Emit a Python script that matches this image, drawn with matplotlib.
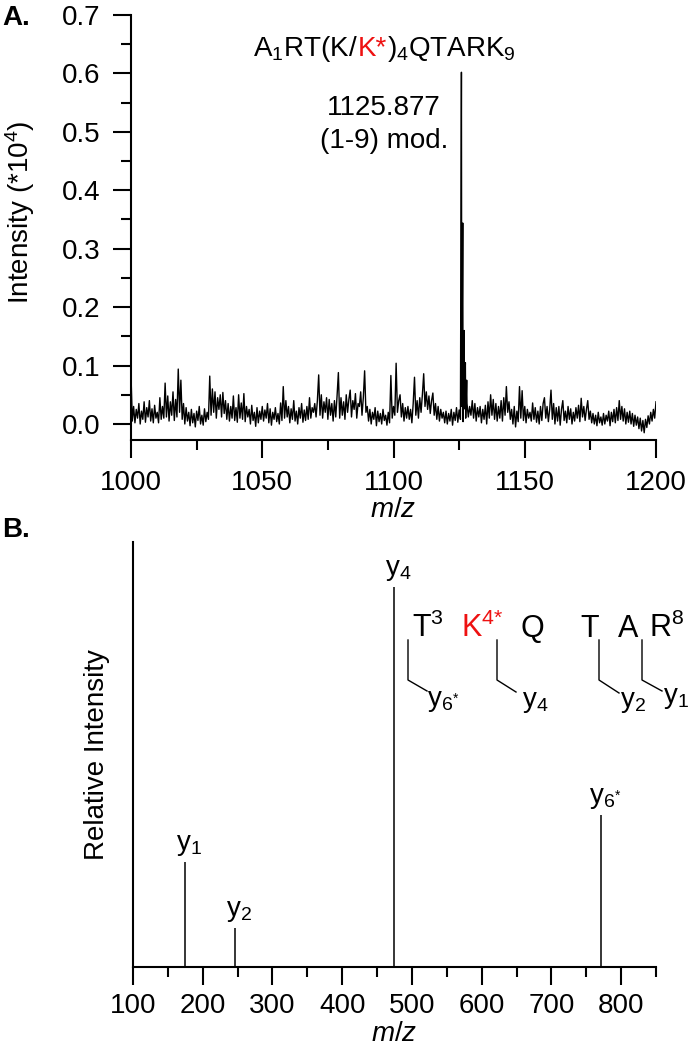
import numpy as np
import matplotlib
matplotlib.use("Agg")
import matplotlib.pyplot as plt
from matplotlib.offsetbox import TextArea, HPacker, AnnotationBbox
from matplotlib.ticker import MultipleLocator
from matplotlib.lines import Line2D

plt.rcParams['font.family'] = ['Liberation Sans', 'DejaVu Sans']
plt.rcParams['mathtext.fontset'] = 'custom'
plt.rcParams['mathtext.rm'] = 'Liberation Sans'
plt.rcParams['mathtext.it'] = 'Liberation Sans:italic'
plt.rcParams['mathtext.bf'] = 'Liberation Sans:bold'

# ---------------- Panel A data (intensity in units of 10^4) ----------------
noise_start_mz = 1000.0
noise_step_mz = 0.5
# noise values in thousandths of the axis unit, sampled every 0.5 m/z
noise_1000_1100 = [
    84, 5, 30, 2, 25, 10, 35, 0, 22, 8, 38, 3, 28, 12, 40, 5, 26, 2, 32, 10,
    20, 2, 45, 8, 30, 10, 70, 12, 48, 5, 38, 15, 55, 6, 42, 12, 94, 20, 75, 8,
    35, 0, 28, 5, 20, -3, 25, 2, 18, -5, 22, 6, 30, 0, 15, -2, 26, 4, 20, 8,
    82, 15, 60, 20, 55, 10, 45, 25, 50, 12, 54, 18, 40, 8, 35, 5, 30, 10, 48, 6,
    28, 3, 50, 10, 36, 8, 52, 4, 30, 12, 25, 0, 32, 6, 20, -4, 28, 2, 22, 8,
    30, 5, 24, 10, 35, 2, 26, -2, 20, 8, 28, 4, 18, 0, 36, 6, 64, 10, 40, 12,
    30, 2, 26, 8, 40, 5, 22, 0, 28, 10, 35, 3, 24, 6, 30, 8, 45, 10, 28, 20,
    35, 12, 40, 84, 15, 50, 10, 38, 20, 45, 8, 42, 15, 35, 5, 40, 12, 48, 88, 10,
    45, 15, 38, 8, 50, 20, 42, 58, 12, 40, 25, 52, 10, 35, 30, 55, 15, 45, 91, 20,
    30, 5, 25, 0, 20, 8, 28, -3, 22, 4, 18, 0, 25, 6, 15, -2, 20, 2, 83, 10,
]
noise_1100_1200 = [
    30, 15, 104, 20, 40, 50, 12, 35, 5, 28, 10, 30, 8, 25, 2, 35, 80, 15, 40, 10,
    45, 20, 50, 86, 30, 55, 25, 48, 18, 40, 53, 15, 35, 8, 30, 5, 25, 10, 20, 2,
    22, 0, 18, 5, 25, -2, 20, 6, 28, 3, 24, 8, 30, 4, 26, 10, 35, 12, 30, 15,
    40, 10, 35, 5, 28, 12, 30, 2, 25, 8, 32, 0, 38, 10, 50, 15, 42, 8, 35, 5,
    30, 10, 40, 5, 45, 15, 64, 20, 38, 8, 25, 0, 30, -5, 22, 4, 64, 10, 57, 6,
    30, 2, 25, 10, 20, 5, 36, 8, 28, 3, 22, 0, 30, 6, 35, 45, 10, 30, 4, 25,
    58, 8, 35, 0, 28, 5, 30, -2, 25, 40, 6, 22, 2, 30, 8, 26, 0, 20, 5, 28,
    10, 32, 4, 44, 12, 30, 6, 25, 40, 8, 22, 2, 18, 0, 15, -3, 20, 2, 12, -2,
    18, 0, 15, 5, 22, -3, 20, 4, 25, 2, 28, 6, 40, 8, 30, 5, 26, 0, 20, 3,
    22, 0, 18, -4, 15, -2, 12, -8, 10, -12, 6, -15, 8, -6, 14, 0, 20, 5, 25, 10,
    38,
]
peak_mz = [1125.877, 1126.378, 1126.880, 1127.380, 1127.880]
peak_int = [0.602, 0.344, 0.160, 0.105, 0.075]

xticks_a = [1000, 1050, 1100, 1150, 1200]
yticks_a = [0.0, 0.1, 0.2, 0.3, 0.4, 0.5, 0.6, 0.7]

# ---------------- Panel B data ----------------
frag_names = ['y$_1$', 'y$_2$', 'y$_4$', 'y$_{6^{{*}}}$']
frag_mz = [174.6, 246.3, 474.3, 771.2]
frag_rel = [27.7, 10.3, 100.0, 40.0]
xticks_b = [100, 200, 300, 400, 500, 600, 700, 800]

# ---------------- Figure ----------------
W, H = 688, 1050
fig = plt.figure(figsize=(W / 100, H / 100), dpi=100)

def fx(px):
    return px / W

def fy(py):
    return 1 - py / H

FS = 20
tick_kw = dict(direction='out', length=13, width=1.5, labelsize=FS, color='black')
minor_kw = dict(direction='out', length=7, width=1.5)

# Panel A
ax1 = fig.add_axes([fx(131), fy(440), (656 - 131) / W, (440 - 15) / H])
noise_vals = np.array(noise_1000_1100 + noise_1100_1200) / 1000.0
noise_mz = noise_start_mz + noise_step_mz * np.arange(len(noise_vals))
all_mz = np.concatenate([noise_mz, np.array(peak_mz)])
all_int = np.concatenate([noise_vals, np.array(peak_int)])
order = np.argsort(all_mz)
ax1.plot(all_mz[order], all_int[order], color='black', lw=1.0)
ax1.set_xlim(1000, 1200)
ax1.set_ylim(-0.0274, 0.7)
ax1.set_xticks(xticks_a)
ax1.set_yticks(yticks_a)
ax1.set_yticklabels([f"{v:.1f}" for v in yticks_a])
ax1.xaxis.set_minor_locator(MultipleLocator(25))
ax1.yaxis.set_minor_locator(MultipleLocator(0.05))
ax1.tick_params(axis='both', which='major', **tick_kw)
ax1.tick_params(axis='x', which='major', pad=8.5)
ax1.tick_params(axis='y', which='major', pad=9)
ax1.tick_params(axis='both', which='minor', **minor_kw)
for s in ['top', 'right']:
    ax1.spines[s].set_visible(False)
for s in ['left', 'bottom']:
    ax1.spines[s].set_linewidth(1.5)
ax1.set_xlabel('$\\it{m/z}$', fontsize=FS, va='top')
ax1.xaxis.set_label_coords(0.5, -0.134)
ax1.set_ylabel('Intensity (*10$^{4}$)', fontsize=FS)
ax1.yaxis.set_label_coords(-0.179, 0.535)

# title-like annotation with red K*
parts = [('A$_1$RT(K/', 'black'), ('K*', '#ee1111'), (')$_4$QTARK$_9$', 'black')]
boxes = [TextArea(t, textprops=dict(color=c, fontsize=FS)) for t, c in parts]
pack = HPacker(children=boxes, align='baseline', pad=0, sep=0)
ab = AnnotationBbox(pack, (fx(384), fy(64)), xycoords='figure fraction',
                    box_alignment=(0.5, 0.0), frameon=False, pad=0)
fig.add_artist(ab)
fig.text(fx(384), fy(115), '1125.877', ha='center', va='baseline', fontsize=FS)
fig.text(fx(384), fy(148), '(1-9) mod.', ha='center', va='baseline', fontsize=FS)

# Panel B
ax2 = fig.add_axes([fx(133), fy(967), (656 - 133) / W, (967 - 542) / H])
ax2.vlines(frag_mz, 0, frag_rel, color='black', lw=1.1)
ax2.set_xlim(100, 850)
ax2.set_ylim(0, 111.8)
ax2.set_xticks(xticks_b)
ax2.xaxis.set_minor_locator(MultipleLocator(50))
ax2.set_yticks([])
ax2.tick_params(axis='x', which='major', pad=6, **tick_kw)
ax2.tick_params(axis='x', which='minor', **minor_kw)
for s in ['top', 'right']:
    ax2.spines[s].set_visible(False)
for s in ['left', 'bottom']:
    ax2.spines[s].set_linewidth(1.5)
ax2.set_xlabel('$\\it{m/z}$', fontsize=FS, va='top')
ax2.xaxis.set_label_coords(0.5, -0.127)
ax2.set_ylabel('Relative Intensity', fontsize=FS)
ax2.yaxis.set_label_coords(-0.044, 0.5)

for name, mz, rel in zip(frag_names, frag_mz, frag_rel):
    ax2.annotate(name, (mz, rel), xytext=(3, 3), textcoords='offset points',
                 ha='center', va='bottom', fontsize=FS, annotation_clip=False)

# peptide sequence with fragment brackets
seq = [('T$^3$', 411.7, 'black'), ('K$^{4{*}}$', 460.7, '#ee1111'), ('Q', 521, 'black'),
       ('T', 580.7, 'black'), ('A', 617.7, 'black'), ('R$^8$', 649, 'black')]
for t, x, c in seq:
    fig.text(fx(x), fy(637), t, ha='left', va='baseline', fontsize=22, color=c)

brackets = [(408, 640, 680, 427, 691), (497, 640, 680, 516, 692),
            (599, 640, 680, 619, 693), (642, 640, 680, 662, 691)]
for x0, y0, y1, x2, y2 in brackets:
    fig.add_artist(Line2D([fx(x0), fx(x0), fx(x2)], [fy(y0), fy(y1), fy(y2)],
                          transform=fig.transFigure, color='black', lw=1.0))
blabels = [('y$_{6^{{*}}}$', 427, 706), ('y$_4$', 521.7, 707), ('y$_2$', 620, 707), ('y$_1$', 663, 703)]
for t, x, y in blabels:
    fig.text(fx(x), fy(y), t, ha='left', va='baseline', fontsize=FS)

# panel letters
fig.text(fx(2), fy(25), 'A.', ha='left', va='baseline', fontsize=FS, fontweight='bold')
fig.text(fx(2), fy(537), 'B.', ha='left', va='baseline', fontsize=FS, fontweight='bold')

fig.savefig('out.png', dpi=100)
